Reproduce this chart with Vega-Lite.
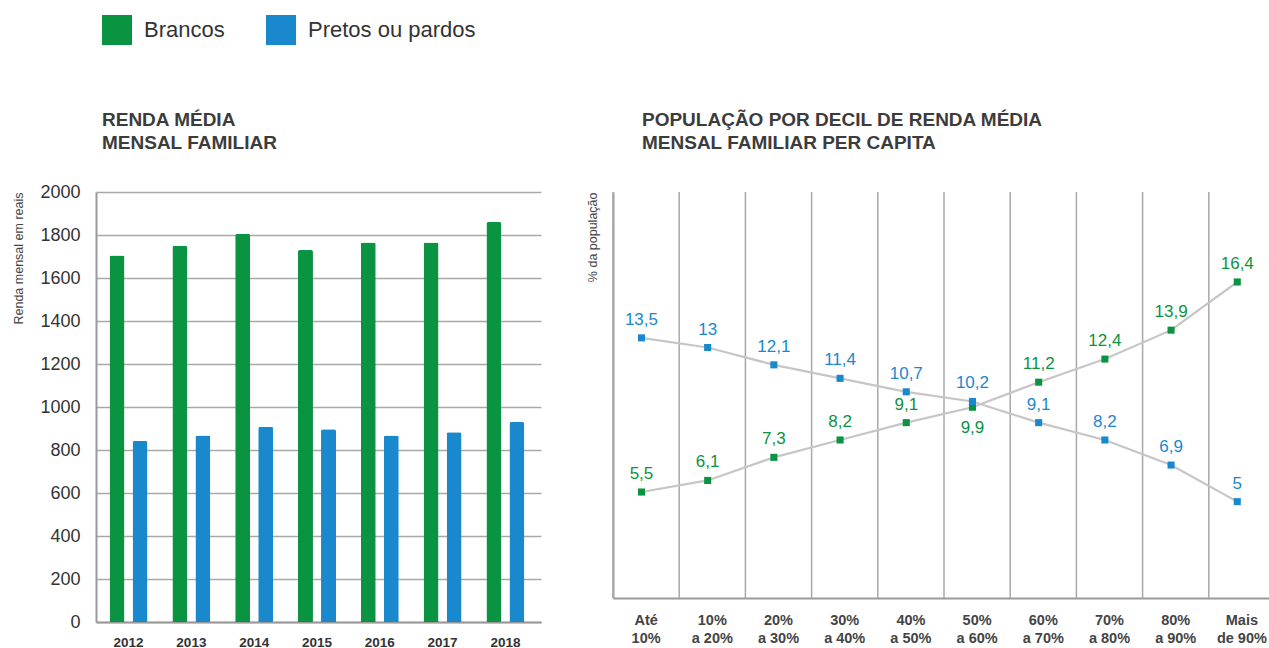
{
  "$schema": "https://vega.github.io/schema/vega-lite/v6.json",
  "padding": {"left": 12, "top": 15, "right": 0, "bottom": 0},
  "background": "white",
  "spacing": 44,
  "config": {
    "font": "Liberation Sans",
    "view": {"stroke": null},
    "legend": {
      "orient": "none", "legendX": 6, "legendY": -177, "direction": "horizontal",
      "symbolType": "square", "symbolSize": 900, "symbolStrokeWidth": 0, "symbolOpacity": 1,
      "labelFontSize": 22, "labelColor": "#333333", "labelOffset": 12, "columnPadding": 41,
      "labelLimit": 300, "title": null
    },
    "title": {"anchor": "start", "frame": "group", "fontSize": 19, "fontWeight": "bold", "color": "#3c3c3c", "lineHeight": 23.5, "offset": 30}
  },
  "datasets": {
    "renda": [
      {"ano": "2012", "grupo": "Brancos", "renda": 1705},
      {"ano": "2012", "grupo": "Pretos ou pardos", "renda": 842},
      {"ano": "2013", "grupo": "Brancos", "renda": 1750},
      {"ano": "2013", "grupo": "Pretos ou pardos", "renda": 868},
      {"ano": "2014", "grupo": "Brancos", "renda": 1805},
      {"ano": "2014", "grupo": "Pretos ou pardos", "renda": 908},
      {"ano": "2015", "grupo": "Brancos", "renda": 1730},
      {"ano": "2015", "grupo": "Pretos ou pardos", "renda": 897},
      {"ano": "2016", "grupo": "Brancos", "renda": 1765},
      {"ano": "2016", "grupo": "Pretos ou pardos", "renda": 868},
      {"ano": "2017", "grupo": "Brancos", "renda": 1765},
      {"ano": "2017", "grupo": "Pretos ou pardos", "renda": 882},
      {"ano": "2018", "grupo": "Brancos", "renda": 1860},
      {"ano": "2018", "grupo": "Pretos ou pardos", "renda": 930}
    ],
    "decil": [
      {"decil": "Até 10%", "grupo": "Brancos", "pct": 5.5},
      {"decil": "10% a 20%", "grupo": "Brancos", "pct": 6.1},
      {"decil": "20% a 30%", "grupo": "Brancos", "pct": 7.3},
      {"decil": "30% a 40%", "grupo": "Brancos", "pct": 8.2},
      {"decil": "40% a 50%", "grupo": "Brancos", "pct": 9.1},
      {"decil": "50% a 60%", "grupo": "Brancos", "pct": 9.9},
      {"decil": "60% a 70%", "grupo": "Brancos", "pct": 11.2},
      {"decil": "70% a 80%", "grupo": "Brancos", "pct": 12.4},
      {"decil": "80% a 90%", "grupo": "Brancos", "pct": 13.9},
      {"decil": "Mais de 90%", "grupo": "Brancos", "pct": 16.4},
      {"decil": "Até 10%", "grupo": "Pretos ou pardos", "pct": 13.5},
      {"decil": "10% a 20%", "grupo": "Pretos ou pardos", "pct": 13},
      {"decil": "20% a 30%", "grupo": "Pretos ou pardos", "pct": 12.1},
      {"decil": "30% a 40%", "grupo": "Pretos ou pardos", "pct": 11.4},
      {"decil": "40% a 50%", "grupo": "Pretos ou pardos", "pct": 10.7},
      {"decil": "50% a 60%", "grupo": "Pretos ou pardos", "pct": 10.2},
      {"decil": "60% a 70%", "grupo": "Pretos ou pardos", "pct": 9.1},
      {"decil": "70% a 80%", "grupo": "Pretos ou pardos", "pct": 8.2},
      {"decil": "80% a 90%", "grupo": "Pretos ou pardos", "pct": 6.9},
      {"decil": "Mais de 90%", "grupo": "Pretos ou pardos", "pct": 5}
    ]
  },
  "hconcat": [
    {
      "width": 445,
      "height": 430,
      "title": {"text": ["RENDA MÉDIA", "MENSAL FAMILIAR"], "dx": 6},
      "data": {"name": "renda"},
      "mark": {"type": "bar", "cornerRadiusTopLeft": 2, "cornerRadiusTopRight": 2},
      "encoding": {
        "x": {
          "field": "ano", "type": "ordinal",
          "scale": {"paddingInner": 0.395, "paddingOuter": 0.24, "align": 0.45},
          "axis": {"title": null, "labelAngle": 0, "ticks": false, "domain": true, "domainColor": "#9a9a9a", "domainWidth": 2,
                   "labelFontSize": 13.5, "labelFontWeight": "bold", "labelColor": "#333333", "labelPadding": 13}
        },
        "xOffset": {"field": "grupo", "type": "nominal", "scale": {"paddingInner": 0.35, "paddingOuter": 0}},
        "y": {
          "field": "renda", "type": "quantitative",
          "scale": {"domain": [0, 2000], "nice": false},
          "axis": {"values": [0, 200, 400, 600, 800, 1000, 1200, 1400, 1600, 1800, 2000], "format": "d",
                   "title": "Renda mensal em reais", "titleAnchor": "end", "titleFontSize": 12.5, "titleFontWeight": "normal",
                   "titleColor": "#444444", "titlePadding": 14, "labelFontSize": 18, "labelColor": "#333333", "labelPadding": 16,
                   "ticks": false, "domain": true, "domainColor": "#9a9a9a", "domainWidth": 2, "grid": true,
                   "gridColor": "#a8a8a8", "gridWidth": 1.5}
        },
        "color": {
          "field": "grupo", "type": "nominal",
          "scale": {"domain": ["Brancos", "Pretos ou pardos"], "range": ["#0a9341", "#1a88cc"]},
          "legend": {"orient": "none", "legendX": 6, "legendY": -177, "direction": "horizontal", "title": null}
        }
      }
    },
    {
      "width": 662,
      "height": 406,
      "title": {"text": ["POPULAÇÃO POR DECIL DE RENDA MÉDIA", "MENSAL FAMILIAR PER CAPITA"], "dx": 29, "dy": -8},
      "data": {"name": "decil"},
      "layer": [
        {
          "transform": [{"filter": "datum.grupo == 'Brancos'"}],
          "mark": {"type": "rule", "color": "#a8a8a8", "strokeWidth": 1.5},
          "encoding": {
            "x": {
              "field": "decil", "type": "ordinal", "sort": null, "bandPosition": 0,
              "scale": {"paddingInner": 0, "paddingOuter": 0},
              "axis": {"title": null, "labelAngle": 0, "ticks": false, "grid": false, "domain": true, "domainColor": "#9a9a9a", "domainWidth": 2,
                       "labelFontSize": 14.5, "labelFontWeight": "bold", "labelColor": "#444444", "labelPadding": 15, "labelLineHeight": 18.5,
                       "labelExpr": "[substring(datum.label, 0, indexof(datum.label, ' ')), substring(datum.label, indexof(datum.label, ' ') + 1)]"}
            }
          }
        },
        {
          "mark": {"type": "line", "color": "#c6c6c6", "strokeWidth": 2.2},
          "encoding": {
            "x": {"field": "decil", "type": "ordinal", "sort": null, "bandPosition": 0.43},
            "y": {
              "field": "pct", "type": "quantitative",
              "scale": {"domain": [0, 21.07], "nice": false},
              "axis": {"title": "% da população", "titleAnchor": "end", "titleFontSize": 12.5, "titleFontWeight": "normal", "titleColor": "#444444",
                       "titlePadding": 14, "labels": false, "ticks": false, "grid": false, "domain": true, "domainColor": "#9a9a9a", "domainWidth": 2}
            },
            "detail": {"field": "grupo", "type": "nominal"}
          }
        },
        {
          "mark": {"type": "point", "shape": "square", "filled": true, "size": 50, "opacity": 1},
          "encoding": {
            "x": {"field": "decil", "type": "ordinal", "sort": null, "bandPosition": 0.43},
            "y": {"field": "pct", "type": "quantitative"},
            "color": {"field": "grupo", "type": "nominal"}
          }
        },
        {
          "transform": [
            {"filter": "!(datum.grupo == 'Brancos' && datum.decil == '50% a 60%')"},
            {"calculate": "replace(toString(datum.pct), '.', ',')", "as": "rotulo"}
          ],
          "mark": {"type": "text", "fontSize": 17, "baseline": "alphabetic", "dy": -13},
          "encoding": {
            "x": {"field": "decil", "type": "ordinal", "sort": null, "bandPosition": 0.43},
            "y": {"field": "pct", "type": "quantitative"},
            "text": {"field": "rotulo", "type": "nominal"},
            "color": {"field": "grupo", "type": "nominal"}
          }
        },
        {
          "transform": [
            {"filter": "datum.grupo == 'Brancos' && datum.decil == '50% a 60%'"},
            {"calculate": "replace(toString(datum.pct), '.', ',')", "as": "rotulo"}
          ],
          "mark": {"type": "text", "fontSize": 17, "baseline": "top", "dy": 13},
          "encoding": {
            "x": {"field": "decil", "type": "ordinal", "sort": null, "bandPosition": 0.43},
            "y": {"field": "pct", "type": "quantitative"},
            "text": {"field": "rotulo", "type": "nominal"},
            "color": {"field": "grupo", "type": "nominal"}
          }
        }
      ]
    }
  ]
}
